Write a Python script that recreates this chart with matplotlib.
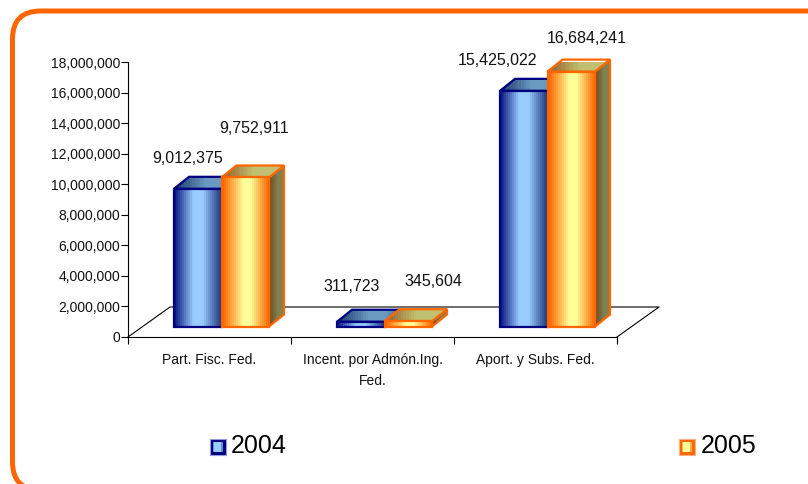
import matplotlib
matplotlib.use('Agg')
import matplotlib.pyplot as plt
import numpy as np
from matplotlib.colors import LinearSegmentedColormap, to_rgb
from matplotlib.patches import FancyBboxPatch, Polygon, Rectangle
from matplotlib.ticker import FuncFormatter

plt.rcParams['font.family'] = ['Liberation Sans', 'DejaVu Sans']

categories = ['Part. Fisc. Fed.', 'Incent. por Admón.Ing.\nFed.', 'Aport. y Subs. Fed.']
years = ['2004', '2005']
values_2004 = [9012375, 311723, 15425022]
values_2005 = [9752911, 345604, 16684241]

W, H = 808, 484
AX_L, AX_R, AX_T, AX_B = 128, 617, 62, 337
YMAX = 18000000

# px -> data units
PX_X = 3 / (AX_R - AX_L)
PX_Y = YMAX / (AX_B - AX_T)

BAR_W = 47.5
FLOOR_DX, FLOOR_DY = 42, 30
BASE_DX, BASE_DY = 12, 10.5
DEPTH_DX, DEPTH_DY = 15, 12


def make_cmap(stops):
    return LinearSegmentedColormap.from_list('g', [(p, to_rgb(c)) for p, c in stops], N=256)


front_2004 = make_cmap([(0, '#0a1a80'), (0.4, '#99ccff'), (0.6, '#99ccff'), (1, '#1f3a80')])
top_2004 = make_cmap([(0, '#1f3a6f'), (0.5, '#6a9abf'), (0.8, '#6a9abf'), (1, '#4a72a0')])
front_2005 = make_cmap([(0, '#ff6600'), (0.45, '#ffff99'), (0.6, '#ffff99'), (1, '#ff6600')])
top_2005 = make_cmap([(0, '#995f2a'), (0.5, '#c0c070'), (1, '#c0c070')])
side_2005 = make_cmap([(0, '#704a20'), (0.6, '#808050'), (1, '#808050')])


def fill_face(ax, poly, cmap, edge, z):
    xs = [p[0] for p in poly]
    ys = [p[1] for p in poly]
    grad = np.linspace(0, 1, 24).reshape(1, -1)
    im = ax.imshow(grad, cmap=cmap, aspect='auto', interpolation='nearest',
                   extent=(min(xs), max(xs), min(ys), max(ys)), zorder=z)
    patch = Polygon(poly, closed=True, fc='none', ec=edge, lw=1.6, zorder=z + 0.5,
                    clip_on=False, joinstyle='miter')
    ax.add_patch(patch)
    im.set_clip_path(patch)


def bar3d(ax, x0, value, cm_front, cm_top, edge, z, cm_side=None):
    x1 = x0 + BAR_W * PX_X
    y0 = BASE_DY * PX_Y
    y1 = y0 + value
    dx = DEPTH_DX * PX_X
    dy = DEPTH_DY * PX_Y
    if cm_side is not None:
        fill_face(ax, [(x1, y0), (x1 + dx, y0 + dy), (x1 + dx, y1 + dy), (x1, y1)], cm_side, edge, z)
    fill_face(ax, [(x0, y1), (x1, y1), (x1 + dx, y1 + dy), (x0 + dx, y1 + dy)], cm_top, edge, z + 1)
    fill_face(ax, [(x0, y0), (x1, y0), (x1, y1), (x0, y1)], cm_front, edge, z + 2)


fig = plt.figure(figsize=(W / 100, H / 100), dpi=100)
fig.patch.set_facecolor('white')

# rounded frame runs off the right and bottom of the picture
frame = FancyBboxPatch((12.5, H - 490), 824, 479,
                       boxstyle='round,pad=0,rounding_size=28',
                       transform=None, fc='none', ec='#ff6600', lw=3.6)
fig.add_artist(frame)

ax = fig.add_axes([AX_L / W, 1 - AX_B / H, (AX_R - AX_L) / W, (AX_B - AX_T) / H])
ax.patch.set_alpha(0)

# floor
fx = FLOOR_DX * PX_X
fy = FLOOR_DY * PX_Y
ax.plot([0, fx, 3 + fx, 3], [0, fy, fy, 0], color='black', lw=0.8, clip_on=False, zorder=1)

z = 3
for i in range(len(categories)):
    x0 = i + (BASE_DX + 163 / 2 - BAR_W) * PX_X
    bar3d(ax, x0, values_2004[i], front_2004, top_2004, '#000080', z)
    bar3d(ax, x0 + BAR_W * PX_X, values_2005[i], front_2005, top_2005, '#ff6600', z + 3, side_2005)
    z += 6

# data labels sit by hand in the original, so offsets from the bar top in px
offs_2004 = [(-10, 30), (-9, 35), (-26, 30)]
offs_2005 = [(9, 49), (25, 40), (15, 33)]
for i in range(len(categories)):
    x0 = i + (BASE_DX + 163 / 2 - BAR_W) * PX_X
    for val, off, xc in ((values_2004[i], offs_2004[i], x0 + BAR_W / 2 * PX_X),
                         (values_2005[i], offs_2005[i], x0 + BAR_W * 1.5 * PX_X)):
        ax.text(xc + off[0] * PX_X, val + BASE_DY * PX_Y + off[1] * PX_Y, f'{val:,}',
                ha='center', va='center', fontsize=11.5, color='#111111', zorder=50, clip_on=False)

ax.set_xlim(0, 3)
ax.set_ylim(0, YMAX)
ax.set_yticks(np.arange(0, YMAX + 1, 2000000))
ax.yaxis.set_major_formatter(FuncFormatter(lambda v, p: f'{int(v):,}'))
ax.set_xticks([0, 1, 2, 3])
ax.set_xticklabels([])
ax.set_xticks([0.5, 1.5, 2.5], minor=True)
ax.set_xticklabels(categories, minor=True, fontsize=10, linespacing=1.6, va='top', color='#111111')
ax.tick_params(axis='x', which='minor', length=0, pad=11.7)
ax.tick_params(axis='x', which='major', length=5, width=0.8)
ax.tick_params(axis='y', length=5, width=0.8, labelsize=10, pad=0.6, labelcolor='#111111')
for s in ('top', 'right'):
    ax.spines[s].set_visible(False)
for s in ('left', 'bottom'):
    ax.spines[s].set_linewidth(0.8)

# legend
for name, xp, fc, mc, lc, hc, tx in ((years[0], 210, '#000080', '#5f8fc8', '#99ccff', '#9999dd', 231),
                                     (years[1], 679, '#ff6600', '#ffb050', '#ffff99', '#ffb080', 701)):
    fig.add_artist(Rectangle((xp / W, 1 - 455 / H), 16 / W, 16 / H, fc=fc, ec=hc, lw=0.8,
                             transform=fig.transFigure))
    fig.add_artist(Rectangle(((xp + 3) / W, 1 - 452 / H), 10 / W, 10 / H, fc=mc, ec='none',
                             transform=fig.transFigure))
    fig.add_artist(Rectangle(((xp + 4) / W, 1 - 452 / H), 7 / W, 10 / H, fc=lc, ec='none',
                             transform=fig.transFigure))
    fig.text(tx / W, 1 - 446 / H, name, fontsize=18, ha='left', va='center', color='black')

fig.savefig('out.png', dpi=100)
